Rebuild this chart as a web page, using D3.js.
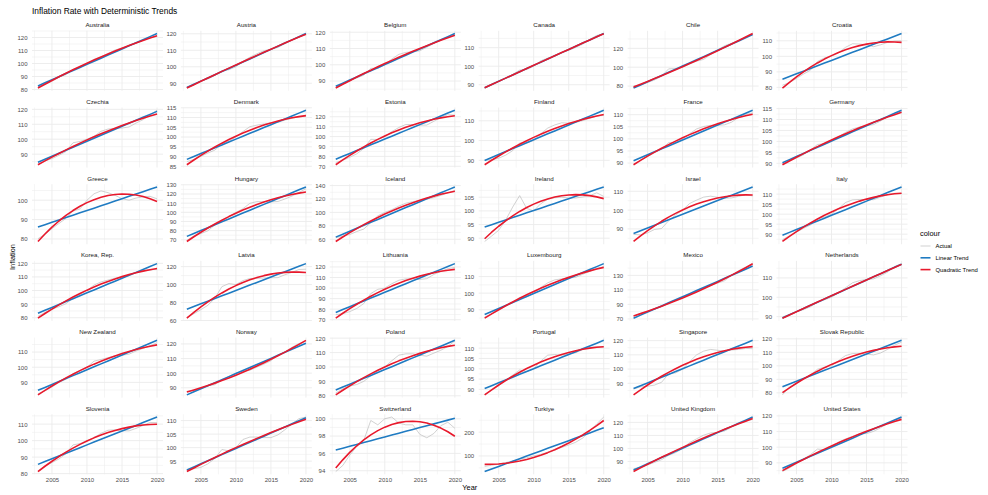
<!DOCTYPE html>
<html>
<head>
<meta charset="utf-8">
<script src="https://cdn.jsdelivr.net/npm/d3@7"></script>
<style>
  body { margin: 0; background: #fff; }
  text { font-family: "Liberation Sans", Arial, sans-serif; }
</style>
</head>
<body>
<div id="chart"></div>
<script>
// ---------- data (consumer price index, 2010 = 100)
var years = [2003, 2004, 2005, 2006, 2007, 2008, 2009, 2010, 2011, 2012, 2013, 2014, 2015, 2016, 2017, 2018, 2019, 2020];

var countries = [
  "Australia", "Austria", "Belgium", "Canada", "Chile", "Croatia",
  "Czechia", "Denmark", "Estonia", "Finland", "France", "Germany",
  "Greece", "Hungary", "Iceland", "Ireland", "Israel", "Italy",
  "Korea, Rep.", "Latvia", "Lithuania", "Luxembourg", "Mexico", "Netherlands",
  "New Zealand", "Norway", "Poland", "Portugal", "Singapore", "Slovak Republic",
  "Slovenia", "Sweden", "Switzerland", "Turkiye", "United Kingdom", "United States"
];

var actual = [
  [82.2, 84.1, 86.4, 89.4, 91.5, 95.5, 97.2, 100, 103.3, 105.1, 107.7, 110.4, 112.0, 113.5, 115.8, 118.0, 119.8, 120.8],
  [87.5, 89.3, 91.4, 92.6, 94.7, 97.7, 98.2, 100, 103.3, 105.8, 107.9, 109.7, 110.7, 111.7, 114.0, 116.3, 118.0, 119.7],
  [86.1, 87.9, 90.3, 91.9, 93.6, 97.8, 97.8, 100, 103.5, 106.4, 107.6, 107.9, 108.6, 110.8, 113.1, 115.5, 117.1, 118.0],
  [88.2, 89.8, 91.8, 93.6, 95.6, 97.9, 98.2, 100, 102.9, 104.4, 105.4, 107.4, 108.6, 110.1, 111.9, 114.5, 116.6, 117.5],
  [80.3, 81.2, 83.7, 86.5, 90.3, 98.2, 98.6, 100, 103.3, 106.4, 108.3, 113.4, 118.3, 122.8, 125.5, 128.4, 131.4, 135.3],
  [81.4, 83.1, 85.8, 88.6, 91.1, 96.7, 99.0, 100, 102.3, 105.8, 108.1, 107.9, 107.4, 106.2, 107.4, 109.0, 109.8, 109.9],
  [83.1, 85.4, 87.0, 89.2, 91.8, 97.6, 98.5, 100, 101.9, 105.3, 106.8, 107.2, 107.5, 108.2, 110.8, 113.1, 116.2, 119.4],
  [87.4, 88.5, 90.1, 91.8, 93.3, 96.5, 97.8, 100, 102.8, 105.3, 106.1, 106.7, 107.2, 107.5, 108.7, 109.6, 110.4, 110.9],
  [73.8, 76.0, 79.1, 82.6, 88.0, 97.2, 97.1, 100, 105.0, 109.1, 112.2, 112.1, 111.5, 111.6, 115.4, 119.3, 122.1, 121.6],
  [90.1, 90.3, 91.1, 92.6, 94.9, 98.8, 98.8, 100, 103.4, 106.3, 107.9, 109.0, 108.8, 109.2, 110.1, 111.3, 112.4, 112.7],
  [89.3, 91.2, 92.7, 94.3, 95.7, 98.4, 98.5, 100, 102.1, 104.1, 105.1, 105.6, 105.6, 105.8, 106.9, 108.9, 110.1, 110.7],
  [89.6, 91.1, 92.4, 93.9, 96.1, 98.6, 98.9, 100, 102.1, 104.1, 105.7, 106.6, 107.2, 107.7, 109.3, 111.2, 112.8, 113.4],
  [80.1, 82.4, 85.3, 88.0, 90.6, 94.4, 95.5, 100, 103.3, 104.8, 103.9, 102.5, 100.8, 100.0, 101.1, 101.7, 102.0, 100.7],
  [69.4, 74.2, 76.8, 79.8, 86.2, 91.5, 95.3, 100, 103.9, 109.8, 111.7, 111.5, 111.4, 111.8, 114.5, 117.7, 121.7, 125.7],
  [62.4, 64.4, 67.0, 71.5, 75.2, 84.7, 94.9, 100, 104.0, 109.4, 113.7, 116.0, 117.8, 119.9, 122.0, 125.3, 129.1, 132.7],
  [88.8, 90.8, 92.9, 96.6, 101.4, 105.6, 100.9, 100, 102.6, 104.3, 104.8, 105.0, 104.7, 104.7, 105.1, 105.6, 106.6, 105.3],
  [87.1, 86.8, 87.9, 89.7, 90.2, 94.3, 97.4, 100, 103.5, 105.3, 106.9, 107.4, 106.8, 106.3, 106.5, 107.3, 108.2, 107.5],
  [87.3, 89.2, 91.0, 92.9, 94.6, 97.7, 98.5, 100, 102.7, 105.8, 107.1, 107.3, 107.3, 107.2, 108.5, 109.7, 110.4, 110.3],
  [81.0, 83.9, 86.2, 88.1, 90.3, 94.5, 97.2, 100, 104.0, 106.3, 107.7, 109.1, 109.8, 110.9, 113.0, 114.7, 115.2, 115.7],
  [63.5, 67.5, 72.1, 76.9, 84.7, 97.7, 101.1, 100, 104.4, 106.8, 106.8, 107.4, 107.6, 107.7, 110.9, 113.6, 116.8, 117.1],
  [74.8, 75.7, 77.7, 80.7, 85.3, 94.8, 98.8, 100, 104.1, 107.4, 108.7, 108.9, 108.2, 108.9, 112.9, 115.8, 118.3, 119.6],
  [85.6, 87.5, 89.7, 92.1, 94.2, 97.4, 97.8, 100, 103.4, 106.2, 108.0, 108.6, 109.2, 109.5, 111.4, 113.1, 115.0, 115.9],
  [73.9, 77.4, 80.5, 83.4, 86.8, 91.2, 96.0, 100, 103.4, 107.6, 111.7, 116.2, 119.3, 122.7, 130.1, 136.5, 141.4, 146.2],
  [89.9, 91.0, 92.5, 93.6, 95.1, 97.5, 98.7, 100, 102.3, 104.9, 107.5, 108.6, 109.2, 109.5, 111.1, 113.0, 115.9, 117.4],
  [82.5, 84.4, 87.0, 89.9, 92.1, 95.8, 97.8, 100, 104.0, 105.1, 106.3, 107.6, 107.9, 108.6, 110.7, 112.4, 114.2, 116.1],
  [87.6, 88.1, 89.4, 91.4, 92.1, 95.6, 97.7, 100, 101.3, 102.0, 104.1, 106.2, 108.5, 112.4, 114.5, 117.7, 120.3, 121.9],
  [81.9, 84.8, 86.7, 87.8, 90.0, 93.8, 97.4, 100, 104.3, 108.2, 109.1, 109.1, 108.1, 107.5, 109.6, 111.6, 114.2, 118.1],
  [87.5, 89.6, 91.7, 94.5, 96.9, 99.4, 98.6, 100, 103.7, 106.6, 106.9, 106.6, 107.1, 107.8, 109.3, 110.4, 110.7, 110.7],
  [86.0, 87.5, 87.9, 88.8, 90.7, 96.7, 97.3, 100, 105.2, 110.0, 112.6, 113.8, 113.2, 112.7, 113.4, 113.8, 114.5, 114.3],
  [78.5, 84.4, 86.7, 90.6, 93.2, 97.5, 99.0, 100, 103.9, 107.6, 109.1, 109.0, 108.7, 108.1, 109.5, 112.2, 115.3, 117.5],
  [81.7, 84.6, 86.7, 88.9, 92.1, 97.4, 98.2, 100, 101.8, 104.4, 106.3, 106.5, 106.0, 105.9, 107.4, 109.2, 111.0, 110.9],
  [91.8, 92.2, 92.7, 94.0, 96.0, 99.3, 98.8, 100, 103.0, 103.9, 103.9, 103.7, 103.7, 104.7, 106.6, 108.7, 110.7, 111.3],
  [93.9, 94.6, 95.8, 96.8, 97.5, 99.8, 99.3, 100, 100.2, 99.5, 99.3, 99.3, 98.2, 97.8, 98.3, 99.2, 99.6, 98.9],
  [56.0, 60.8, 65.8, 72.1, 78.4, 86.6, 92.1, 100, 106.5, 116.0, 124.7, 135.8, 146.2, 157.7, 175.2, 203.8, 234.7, 263.6],
  [84.4, 85.5, 87.3, 89.3, 91.4, 94.7, 96.8, 100, 104.5, 107.4, 110.2, 111.9, 112.3, 113.4, 116.4, 119.1, 121.1, 122.3],
  [84.4, 86.7, 89.6, 92.5, 95.2, 98.8, 98.4, 100, 103.2, 105.3, 106.9, 108.6, 108.7, 110.1, 112.4, 115.2, 117.2, 118.7]
];

var yTicks = [
  [80, 90, 100, 110, 120], [90, 100, 110, 120], [90, 100, 110, 120], [90, 100, 110], [80, 100, 120], [80, 90, 100, 110],
  [90, 100, 110, 120], [85, 90, 95, 100, 105, 110, 115], [70, 80, 90, 100, 110, 120], [90, 100, 110], [90, 95, 100, 105, 110], [90, 95, 100, 105, 110, 115],
  [80, 90, 100], [70, 80, 90, 100, 110, 120, 130], [60, 80, 100, 120, 140], [90, 95, 100, 105], [90, 100, 110], [85, 90, 95, 100, 105, 110, 115],
  [80, 90, 100, 110, 120], [60, 80, 100, 120], [70, 80, 90, 100, 110, 120], [90, 100, 110], [70, 90, 110, 130, 150], [90, 100, 110],
  [90, 100, 110], [90, 100, 110, 120], [80, 90, 100, 110, 120], [90, 95, 100, 105, 110], [90, 100, 110, 120], [80, 90, 100, 110, 120],
  [80, 90, 100, 110], [95, 100, 105, 110], [94, 96, 98, 100], [100, 200], [90, 100, 110, 120], [90, 100, 110, 120]
];

var xTicks = [2005, 2010, 2015, 2020];
var xMinor = [2002.5, 2007.5, 2012.5, 2017.5];

var seriesNames = ["Actual", "Linear Trend", "Quadratic Trend"];
var seriesColors = ["#b3b3b3", "#1f7bc2", "#e8192c"];
var seriesWidths = [0.6, 1.6, 1.6];

// ---------- layout
var W = 988, H = 495;
var nCol = 6;
var left0 = 32, colStep = 148.9, panelW = 131;
var top0 = 30.8, rowStep = 76.7, panelH = 60;

// least squares polynomial fit (degree 1 or 2), centred on the mean year
function fitPoly(xs, ys, deg) {
  var n = deg + 1;
  var xm = d3.mean(xs);
  var A = [], b = [];
  for (var i = 0; i < n; i++) { A.push(new Array(n).fill(0)); b.push(0); }
  xs.forEach(function(x, k) {
    var t = x - xm;
    for (var i = 0; i < n; i++) {
      b[i] += Math.pow(t, i) * ys[k];
      for (var j = 0; j < n; j++) A[i][j] += Math.pow(t, i + j);
    }
  });
  // gaussian elimination
  for (var c = 0; c < n; c++) {
    for (var r = c + 1; r < n; r++) {
      var f = A[r][c] / A[c][c];
      for (var k = c; k < n; k++) A[r][k] -= f * A[c][k];
      b[r] -= f * b[c];
    }
  }
  var coef = new Array(n).fill(0);
  for (var r2 = n - 1; r2 >= 0; r2--) {
    var s = b[r2];
    for (var k2 = r2 + 1; k2 < n; k2++) s -= A[r2][k2] * coef[k2];
    coef[r2] = s / A[r2][r2];
  }
  return xs.map(function(x) {
    var t = x - xm;
    return coef.reduce(function(acc, cf, i) { return acc + cf * Math.pow(t, i); }, 0);
  });
}

var svg = d3.select("#chart")
  .append("svg")
  .attr("width", W)
  .attr("height", H)
  .style("background", "#fff");

// ---------- title
svg.append("text")
  .attr("x", left0)
  .attr("y", 13.5)
  .attr("font-size", 8.4)
  .attr("fill", "#000")
  .text("Inflation Rate with Deterministic Trends");

var x = d3.scaleLinear()
  .domain([2003 - 0.85, 2020 + 0.85])
  .range([0, panelW]);

var line = d3.line()
  .x(function(d) { return x(d[0]); })
  .y(function(d) { return d[1]; });

countries.forEach(function(name, i) {
  var col = i % nCol, row = Math.floor(i / nCol);
  var px = left0 + col * colStep;
  var py = top0 + row * rowStep;

  var ys = actual[i];
  var lin = fitPoly(years, ys, 1);
  var quad = fitPoly(years, ys, 2);
  var all = ys.concat(lin, quad);
  var lo = d3.min(all), hi = d3.max(all), pad = (hi - lo) * 0.05;

  var y = d3.scaleLinear()
    .domain([lo - pad, hi + pad])
    .range([panelH, 0]);

  var g = svg.append("g")
    .attr("class", "panel")
    .attr("transform", "translate(" + px + "," + py + ")");

  // grid: minor then major
  var ticks = yTicks[i].filter(function(t) { return t >= y.domain()[0] && t <= y.domain()[1]; });
  var step = yTicks[i][1] - yTicks[i][0];
  var yMinor = [];
  for (var v = yTicks[i][0] - step / 2; v <= yTicks[i][yTicks[i].length - 1] + step / 2; v += step) {
    if (v >= y.domain()[0] && v <= y.domain()[1]) yMinor.push(v);
  }

  g.selectAll("line.yminor")
    .data(yMinor)
    .enter().append("line")
    .attr("class", "yminor")
    .attr("x1", 0).attr("x2", panelW)
    .attr("y1", function(d) { return y(d); })
    .attr("y2", function(d) { return y(d); })
    .attr("stroke", "#ebebeb")
    .attr("stroke-width", 0.5);

  g.selectAll("line.xminor")
    .data(xMinor)
    .enter().append("line")
    .attr("class", "xminor")
    .attr("y1", 0).attr("y2", panelH)
    .attr("x1", function(d) { return x(d); })
    .attr("x2", function(d) { return x(d); })
    .attr("stroke", "#ebebeb")
    .attr("stroke-width", 0.5);

  g.selectAll("line.ymajor")
    .data(ticks)
    .enter().append("line")
    .attr("class", "ymajor")
    .attr("x1", 0).attr("x2", panelW)
    .attr("y1", function(d) { return y(d); })
    .attr("y2", function(d) { return y(d); })
    .attr("stroke", "#ebebeb")
    .attr("stroke-width", 0.9);

  g.selectAll("line.xmajor")
    .data(xTicks)
    .enter().append("line")
    .attr("class", "xmajor")
    .attr("y1", 0).attr("y2", panelH)
    .attr("x1", function(d) { return x(d); })
    .attr("x2", function(d) { return x(d); })
    .attr("stroke", "#ebebeb")
    .attr("stroke-width", 0.9);

  // y axis labels
  var yAxis = d3.axisLeft(y)
    .tickValues(ticks)
    .tickFormat(function(d) { return String(d); })
    .tickSize(0)
    .tickPadding(4.5);
  var yAxisGroup = g.append("g").attr("class", "y axis").call(yAxis);
  yAxisGroup.select(".domain").remove();
  yAxisGroup.selectAll("text")
    .attr("font-size", 6)
    .attr("fill", "#4d4d4d")
    .style("font-family", "'Liberation Sans', Arial, sans-serif");

  // x axis labels only on bottom row
  if (row === Math.floor((countries.length - 1) / nCol)) {
    var xAxis = d3.axisBottom(x).tickValues(xTicks).tickFormat(d3.format("d")).tickSize(0).tickPadding(3);
    var xAxisGroup = g.append("g")
      .attr("class", "x axis")
      .attr("transform", "translate(0," + panelH + ")")
      .call(xAxis);
    xAxisGroup.select(".domain").remove();
    xAxisGroup.selectAll("text")
      .attr("font-size", 6)
      .attr("fill", "#4d4d4d")
      .style("font-family", "'Liberation Sans', Arial, sans-serif");
  }

  // strip label
  g.append("text")
    .attr("x", panelW / 2)
    .attr("y", -3.5)
    .attr("text-anchor", "middle")
    .attr("font-size", 6.2)
    .attr("fill", "#1a1a1a")
    .text(name);

  // lines: actual, linear, quadratic
  [ys, lin, quad].forEach(function(vals, s) {
    g.append("path")
      .datum(years.map(function(yr, k) { return [yr, y(vals[k])]; }))
      .attr("fill", "none")
      .attr("stroke", seriesColors[s])
      .attr("stroke-width", seriesWidths[s])
      .attr("stroke-linejoin", "round")
      .attr("d", line);
  });
});

// ---------- axis titles
svg.append("text")
  .attr("x", left0 + (5 * colStep + panelW) / 2)
  .attr("y", 490)
  .attr("text-anchor", "middle")
  .attr("font-size", 7.4)
  .attr("fill", "#000")
  .text("Year");

svg.append("text")
  .attr("transform", "translate(14.8,257) rotate(-90)")
  .attr("text-anchor", "middle")
  .attr("font-size", 7.4)
  .attr("fill", "#000")
  .text("Inflation");

// ---------- legend
var legend = svg.append("g")
  .attr("class", "legend")
  .attr("transform", "translate(920,233)");

legend.append("text")
  .attr("x", 0)
  .attr("y", 2.5)
  .attr("font-size", 7.4)
  .attr("fill", "#000")
  .text("colour");

var items = legend.selectAll("g.item")
  .data(seriesNames)
  .enter().append("g")
  .attr("class", "item")
  .attr("transform", function(d, i) { return "translate(0," + (13 + i * 11.8) + ")"; });

items.append("line")
  .attr("x1", 0.5).attr("x2", 10.5)
  .attr("y1", 0).attr("y2", 0)
  .attr("stroke", function(d, i) { return seriesColors[i]; })
  .attr("stroke-width", function(d, i) { return seriesWidths[i]; });

items.append("text")
  .attr("x", 15.5)
  .attr("y", 2.1)
  .attr("font-size", 5.9)
  .attr("fill", "#000")
  .text(function(d) { return d; });
</script>
</body>
</html>
